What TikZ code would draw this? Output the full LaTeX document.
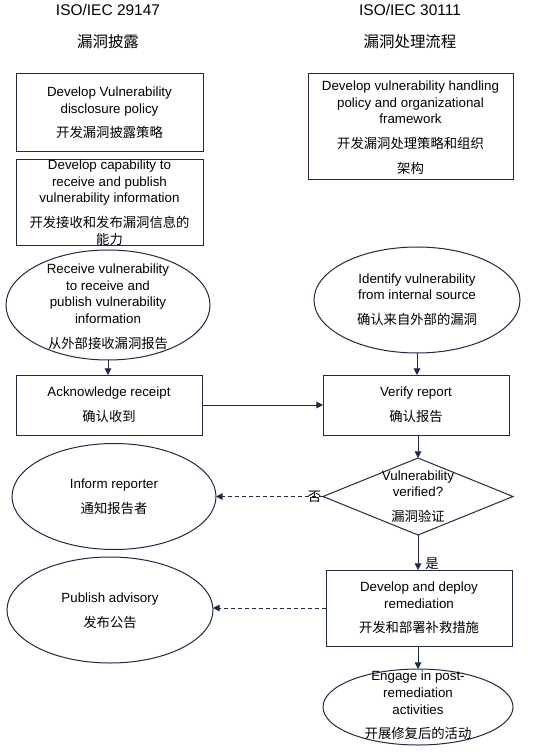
\documentclass[tikz,border=0pt]{standalone}
\usepackage{fontspec}
\setmainfont{Liberation Sans}
\newfontfamily\cjk{Noto Sans CJK SC}
\usetikzlibrary{shapes.geometric,arrows.meta}
\definecolor{ln}{HTML}{1F2A44}
\begin{document}
\begin{tikzpicture}[x=0.75pt,y=-0.75pt,
  shp/.style={draw=ln, line width=0.75pt, inner sep=0pt, outer sep=0pt},
  boxs/.style={shp, rectangle},
  ells/.style={shp, ellipse},
  dias/.style={shp, diamond},
  txt/.style={align=center, font=\fontsize{10}{12.5}\selectfont, inner sep=0pt, text=black},
  ttl/.style={font=\fontsize{11.6}{14}\selectfont, inner sep=0pt, text=black},
  lbl/.style={font=\fontsize{10}{12}\selectfont\cjk, inner sep=0pt, text=black},
  arr/.style={draw=ln, line width=0.75pt, -{Triangle[length=5pt,width=5pt]}},
  dsh/.style={arr, dash pattern=on 3pt off 2.25pt}]
\useasboundingbox (0,0) rectangle (535,755);
\fill[white] (0,0) rectangle (535,755);

% titles
\node[ttl] (tl1) at (108,10) {ISO/IEC 29147};
\node[ttl] (tl2) at (108,42) {\cjk 漏洞披露};
\node[ttl] (tr1) at (410,10) {ISO/IEC 30111};
\node[ttl] (tr2) at (410,42) {\cjk 漏洞处理流程};

% shapes
\node[boxs, minimum width=140.25pt, minimum height=58.5pt] (b1) at (109.5,113) {};
\node[boxs, minimum width=140.25pt, minimum height=64.5pt] (b2) at (109.5,203) {};
\node[boxs, minimum width=153.75pt, minimum height=79.5pt] (b3) at (410.5,127) {};
\node[ells, minimum width=153pt, minimum height=82.5pt] (e1) at (108,305) {};
\node[ells, minimum width=154.5pt, minimum height=79.5pt] (e2) at (417,300) {};
\node[boxs, minimum width=139.5pt, minimum height=45pt] (ack) at (109,405) {};
\node[boxs, minimum width=139.5pt, minimum height=45pt] (ver) at (416,405) {};
\node[dias, minimum width=142.5pt, minimum height=57.75pt] (dia) at (418,496.5) {};
\node[ells, minimum width=153pt, minimum height=79.5pt] (inf) at (114,496.5) {};
\node[boxs, minimum width=139.5pt, minimum height=57pt] (rem) at (419,608) {};
\node[ells, minimum width=154.5pt, minimum height=79.5pt] (pub) at (110,610) {};
\node[ells, minimum width=142.5pt, minimum height=57pt] (eng) at (418,707) {};

% texts
\node[txt] (b1t) at (109.5,113) {Develop Vulnerability\\disclosure policy\\[6pt]{\cjk 开发漏洞披露策略}};
\node[txt] (b2t) at (109.5,202.5) {Develop capability to\\receive and publish\\vulnerability information\\[6pt]{\cjk 开发接收和发布漏洞信息的}\\{\cjk 能力}};
\node[txt] (b3t) at (410.5,127.5) {Develop vulnerability handling\\policy and organizational\\framework\\[6pt]{\cjk 开发漏洞处理策略和组织}\\[6pt]{\cjk 架构}};
\node[txt] (e1t) at (108,306.5) {Receive vulnerability\\to receive and\\publish vulnerability\\information\\[6pt]{\cjk 从外部接收漏洞报告}};
\node[txt] (e2t) at (417,299.5) {Identify vulnerability\\from internal source\\[6pt]{\cjk 确认来自外部的漏洞}};
\node[txt] (ackt) at (109,404.5) {Acknowledge receipt\\[6pt]{\cjk 确认收到}};
\node[txt] (vert) at (416,404.5) {Verify report\\[6pt]{\cjk 确认报告}};
\node[txt] (diat) at (418,496.5) {Vulnerability\\verified?\\[6pt]{\cjk 漏洞验证}};
\node[txt] (inft) at (114,496.5) {Inform reporter\\[6pt]{\cjk 通知报告者}};
\node[txt] (remt) at (419,608) {Develop and deploy\\remediation\\[6pt]{\cjk 开发和部署补救措施}};
\node[txt] (pubt) at (110,610.5) {Publish advisory\\[6pt]{\cjk 发布公告}};
\node[txt] (engt) at (418,705.5) {Engage in post-\\remediation\\activities\\[6pt]{\cjk 开展修复后的活动}};

% connectors
\draw[arr] (e1.south) -- (e1.south |- ack.north);
\draw[arr] (e2.south) -- (e2.south |- ver.north);
\draw[arr] (ack.east) -- (ver.west);
\draw[arr] (ver.south -| dia.north) -- (dia.north);
\draw[dsh] (dia.west) -- (dia.west -| inf.east);
\draw[arr] (dia.south) -- (dia.south |- rem.north);
\draw[dsh] (rem.west) -- (rem.west -| pub.east);
\draw[arr] (rem.south -| eng.north) -- (eng.north);

% labels
\node[lbl] (no) at (314.5,497) {否};
\node[lbl] (yes) at (432,564) {是};
\end{tikzpicture}
\end{document}
